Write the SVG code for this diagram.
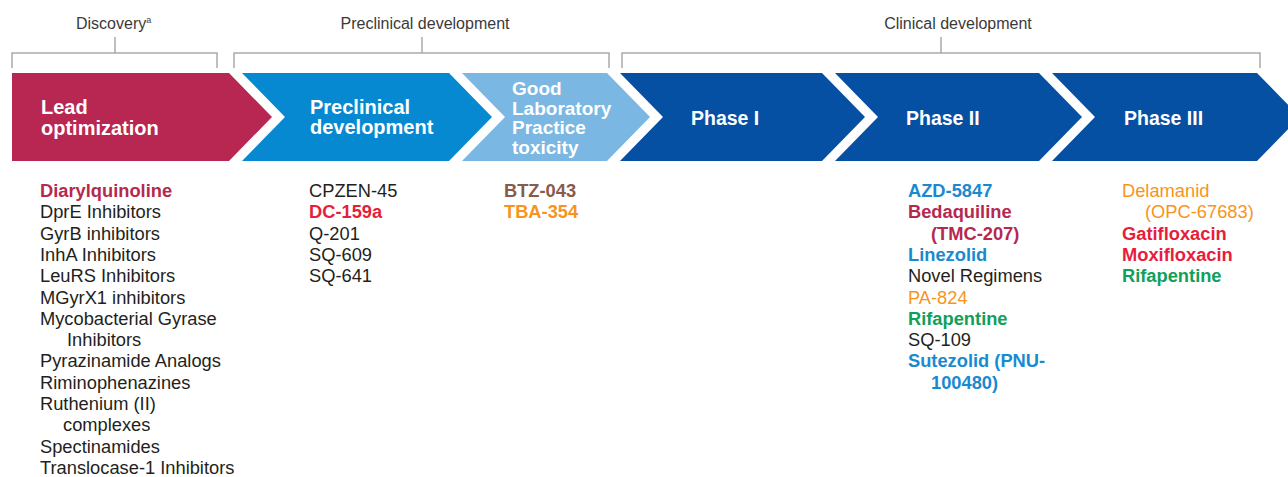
<svg xmlns="http://www.w3.org/2000/svg" width="1288" height="477" viewBox="0 0 1288 477">
<style>
.hd{font-family:"Liberation Sans",Arial,sans-serif;font-size:16px;fill:#3a3a3a}
.br{fill:none;stroke:#ababab;stroke-width:1.5}
.cl{font-family:"Liberation Sans",Arial,sans-serif;font-size:20px;font-weight:bold;fill:#ffffff}
.ph{font-size:19.5px}
.gl{font-size:19px}
.ls{font-family:"Liberation Sans",Arial,sans-serif;font-size:18.3px;fill:#231f20}
.b{font-weight:bold}
.crim{fill:#b5294f}.red{fill:#e61e3c}.brn{fill:#8a5a4c}.org{fill:#f7941d}.blu{fill:#1a8ad0}.grn{fill:#11a05c}
</style>
<rect width="1288" height="477" fill="#ffffff"/>
<g id="headers">
<text class="hd" x="76" y="29">Discovery<tspan font-size="9" dy="-6">a</tspan></text>
<text class="hd" x="425" y="29" text-anchor="middle">Preclinical development</text>
<text class="hd" x="958" y="29" text-anchor="middle">Clinical development</text>
</g>
<g id="connectors">
<path class="br" d="M12,68 V53 H217 V68 M115,53 V37"/>
<path class="br" d="M234,68 V53 H609 V68 M422,53 V37"/>
<path class="br" d="M622,68 V53 H1260 V68 M941,53 V37"/>
</g>
<g id="lead">
<path d="M12,73 H229 L272,117 L229,161 H12 Z" fill="#b82652"/>
<text class="cl" x="41" y="114">Lead</text>
<text class="cl" x="41" y="135">optimization</text>
</g>
<g id="preclinical">
<path d="M242,73 H449 L492,117 L449,161 H242 L285,117 Z" fill="#0789d1"/>
<text class="cl" x="310" y="114">Preclinical</text>
<text class="cl" x="310" y="134">development</text>
</g>
<g id="glp">
<path d="M462,73 H607 L650,117 L607,161 H462 L505,117 Z" fill="#7ab7e3"/>
<text class="cl gl" x="512" y="95">Good</text>
<text class="cl gl" x="512" y="114.5">Laboratory</text>
<text class="cl gl" x="512" y="134">Practice</text>
<text class="cl gl" x="512" y="153.5">toxicity</text>
</g>
<g id="phase1">
<path d="M620,73 H822 L865,117 L822,161 H620 L663,117 Z" fill="#0650a3"/>
<text class="cl ph" x="691" y="125">Phase I</text>
</g>
<g id="phase2">
<path d="M835,73 H1039 L1082,117 L1039,161 H835 L878,117 Z" fill="#0650a3"/>
<text class="cl ph" x="906" y="125">Phase II</text>
</g>
<g id="phase3">
<path d="M1052,73 H1257 L1300,117 L1257,161 H1052 L1095,117 Z" fill="#0650a3"/>
<text class="cl ph" x="1124" y="125">Phase III</text>
</g>
<g id="list-lead" class="ls">
<text x="40" y="197" class="b crim">Diarylquinoline</text>
<text x="40" y="218.3">DprE Inhibitors</text>
<text x="40" y="239.6">GyrB inhibitors</text>
<text x="40" y="260.9">InhA Inhibitors</text>
<text x="40" y="282.2">LeuRS Inhibitors</text>
<text x="40" y="303.5">MGyrX1 inhibitors</text>
<text x="40" y="324.8">Mycobacterial Gyrase</text>
<text x="67" y="346.1">Inhibitors</text>
<text x="40" y="367.4">Pyrazinamide Analogs</text>
<text x="40" y="388.7">Riminophenazines</text>
<text x="40" y="410">Ruthenium (II)</text>
<text x="63" y="431.3">complexes</text>
<text x="40" y="452.6">Spectinamides</text>
<text x="40" y="473.9">Translocase-1 Inhibitors</text>
</g>
<g id="list-preclinical" class="ls">
<text x="309" y="197">CPZEN-45</text>
<text x="309" y="218.3" class="b red">DC-159a</text>
<text x="309" y="239.6">Q-201</text>
<text x="309" y="260.9">SQ-609</text>
<text x="309" y="282.2">SQ-641</text>
</g>
<g id="list-glp" class="ls">
<text x="504" y="197" class="b brn">BTZ-043</text>
<text x="504" y="218.3" class="b org">TBA-354</text>
</g>
<g id="list-phase2" class="ls">
<text x="908" y="197" class="b blu">AZD-5847</text>
<text x="908" y="218.3" class="b crim">Bedaquiline</text>
<text x="931" y="239.6" class="b crim">(TMC-207)</text>
<text x="908" y="260.9" class="b blu">Linezolid</text>
<text x="908" y="282.2">Novel Regimens</text>
<text x="908" y="303.5" class="org">PA-824</text>
<text x="908" y="324.8" class="b grn">Rifapentine</text>
<text x="908" y="346.1">SQ-109</text>
<text x="908" y="367.4" class="b blu">Sutezolid (PNU-</text>
<text x="931" y="388.7" class="b blu">100480)</text>
</g>
<g id="list-phase3" class="ls">
<text x="1122" y="197" class="org">Delamanid</text>
<text x="1145" y="218.3" class="org">(OPC-67683)</text>
<text x="1122" y="239.6" class="b red">Gatifloxacin</text>
<text x="1122" y="260.9" class="b red">Moxifloxacin</text>
<text x="1122" y="282.2" class="b grn">Rifapentine</text>
</g>
</svg>
